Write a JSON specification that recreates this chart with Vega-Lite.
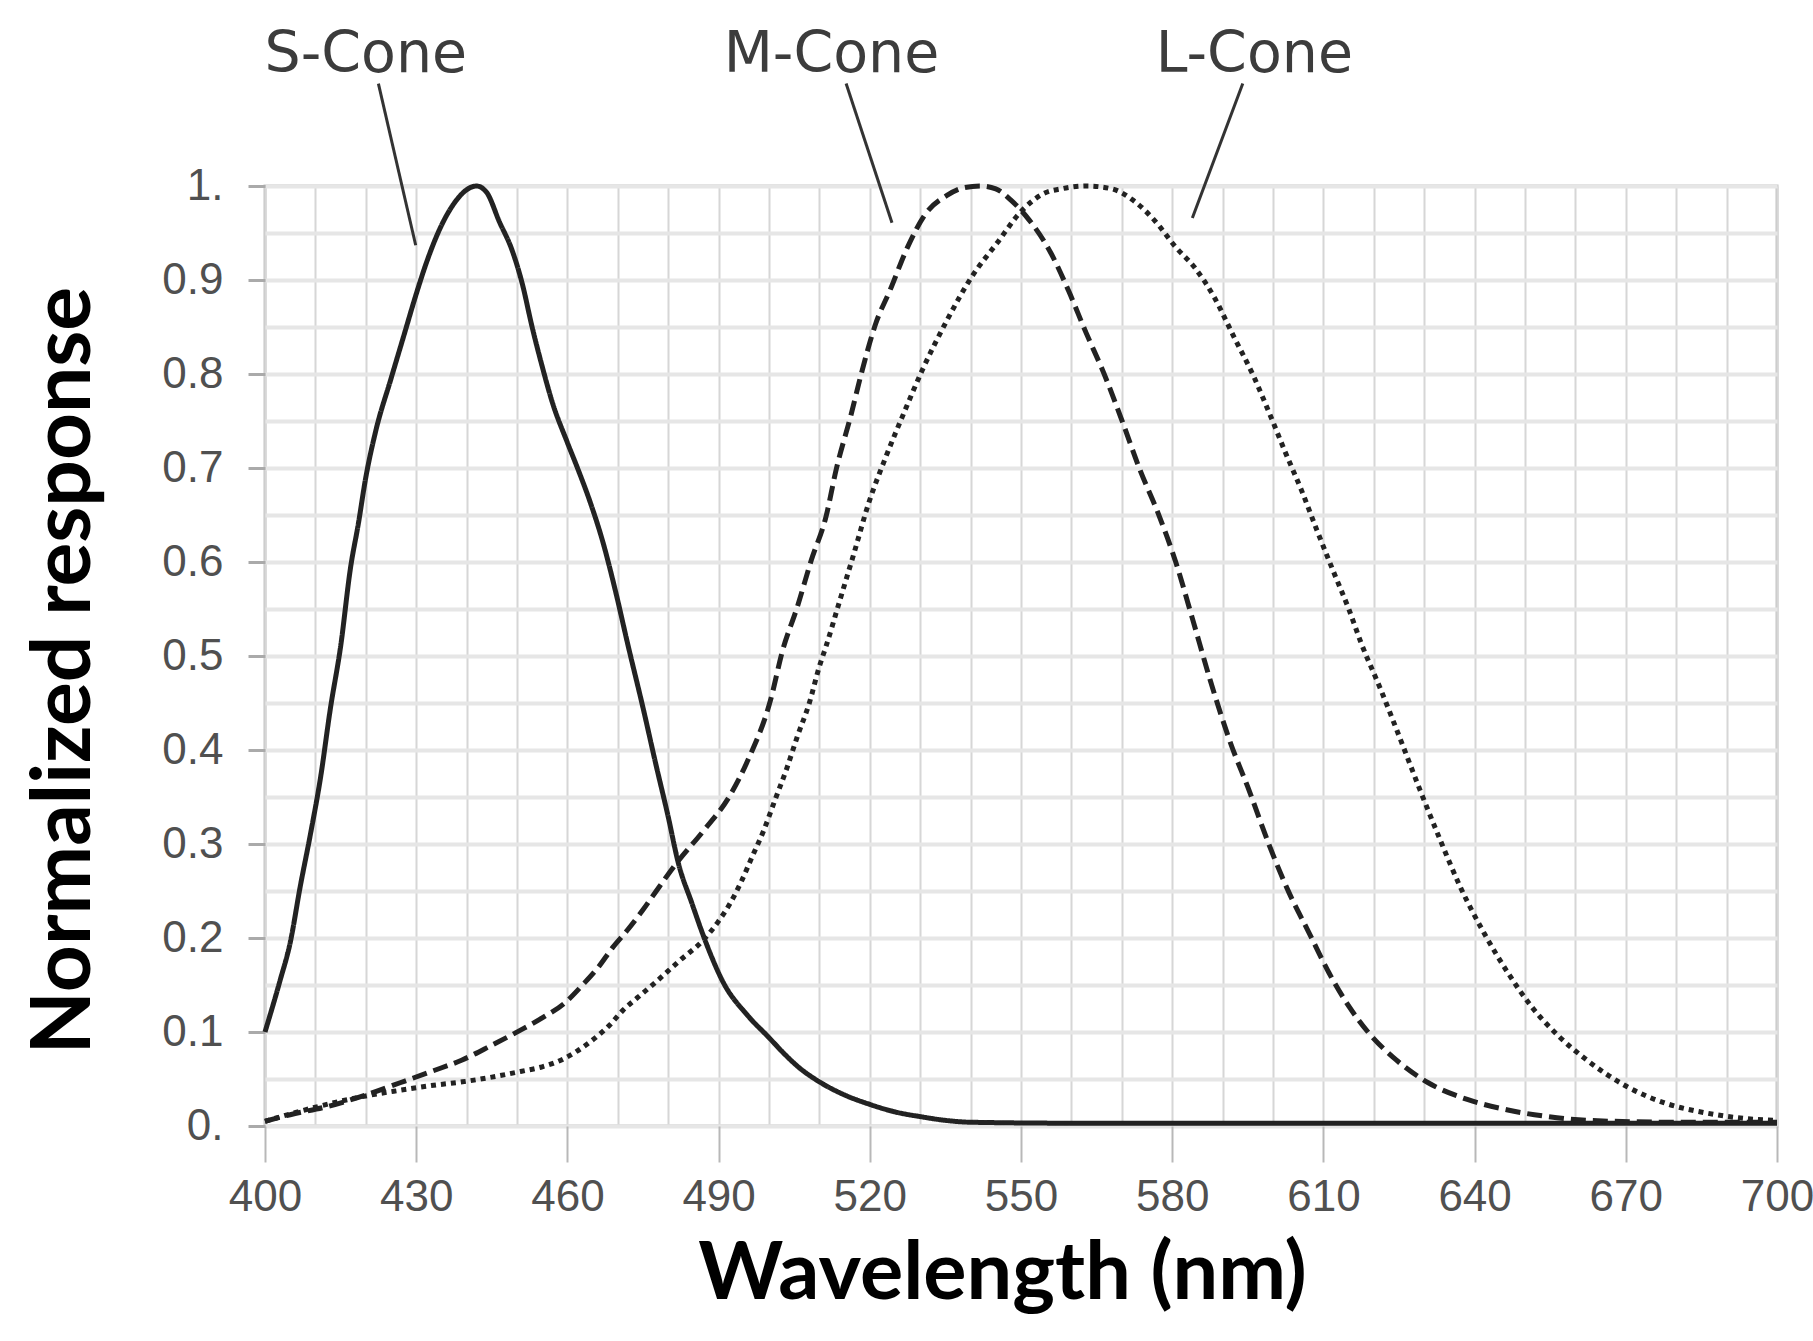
{
  "$schema": "https://vega.github.io/schema/vega-lite/v6.json",
  "width": 1512,
  "height": 940,
  "autosize": {"type": "none"},
  "padding": {"left": 265, "top": 186, "right": 36, "bottom": 215},
  "background": "white",
  "config": {"view": {"stroke": "#c4c4c4", "strokeWidth": 3}},
  "datasets": {
    "curves": [
      {"cone":"S","nm":400,"r":0.10},{"cone":"S","nm":403,"r":0.155},{"cone":"S","nm":405,"r":0.195},{"cone":"S","nm":407,"r":0.255},{"cone":"S","nm":409,"r":0.31},{"cone":"S","nm":411,"r":0.37},{"cone":"S","nm":413,"r":0.445},{"cone":"S","nm":415,"r":0.51},{"cone":"S","nm":417,"r":0.595},{"cone":"S","nm":418.5,"r":0.64},{"cone":"S","nm":420,"r":0.69},{"cone":"S","nm":422,"r":0.74},{"cone":"S","nm":425,"r":0.795},{"cone":"S","nm":427.5,"r":0.84},{"cone":"S","nm":430,"r":0.885},{"cone":"S","nm":432,"r":0.918},{"cone":"S","nm":435,"r":0.958},{"cone":"S","nm":438,"r":0.985},{"cone":"S","nm":440,"r":0.996},{"cone":"S","nm":442,"r":1.0},{"cone":"S","nm":444,"r":0.993},{"cone":"S","nm":446.5,"r":0.962},{"cone":"S","nm":449,"r":0.932},{"cone":"S","nm":451,"r":0.897},{"cone":"S","nm":453,"r":0.85},{"cone":"S","nm":455,"r":0.808},{"cone":"S","nm":457,"r":0.77},{"cone":"S","nm":460,"r":0.727},{"cone":"S","nm":462,"r":0.70},{"cone":"S","nm":464.5,"r":0.664},{"cone":"S","nm":467,"r":0.622},{"cone":"S","nm":469.5,"r":0.57},{"cone":"S","nm":472,"r":0.512},{"cone":"S","nm":475,"r":0.445},{"cone":"S","nm":477.5,"r":0.386},{"cone":"S","nm":480,"r":0.329},{"cone":"S","nm":482,"r":0.28},{"cone":"S","nm":484.7,"r":0.237},{"cone":"S","nm":487.5,"r":0.195},{"cone":"S","nm":491,"r":0.152},{"cone":"S","nm":495.7,"r":0.118},{"cone":"S","nm":500,"r":0.094},{"cone":"S","nm":503,"r":0.077},{"cone":"S","nm":506,"r":0.062},{"cone":"S","nm":510,"r":0.047},{"cone":"S","nm":515,"r":0.033},{"cone":"S","nm":520,"r":0.023},{"cone":"S","nm":525,"r":0.015},{"cone":"S","nm":530,"r":0.01},{"cone":"S","nm":535,"r":0.006},{"cone":"S","nm":540,"r":0.004},{"cone":"S","nm":560,"r":0.003},{"cone":"S","nm":700,"r":0.003},
      {"cone":"M","nm":400,"r":0.005},{"cone":"M","nm":405,"r":0.012},{"cone":"M","nm":412.6,"r":0.021},{"cone":"M","nm":420,"r":0.033},{"cone":"M","nm":426.8,"r":0.046},{"cone":"M","nm":433,"r":0.058},{"cone":"M","nm":439,"r":0.07},{"cone":"M","nm":445,"r":0.086},{"cone":"M","nm":450.7,"r":0.102},{"cone":"M","nm":455,"r":0.115},{"cone":"M","nm":459.5,"r":0.131},{"cone":"M","nm":463,"r":0.15},{"cone":"M","nm":466,"r":0.168},{"cone":"M","nm":469,"r":0.19},{"cone":"M","nm":472,"r":0.209},{"cone":"M","nm":475,"r":0.23},{"cone":"M","nm":477.5,"r":0.249},{"cone":"M","nm":481.7,"r":0.28},{"cone":"M","nm":487,"r":0.314},{"cone":"M","nm":492.3,"r":0.352},{"cone":"M","nm":495.8,"r":0.389},{"cone":"M","nm":500.3,"r":0.453},{"cone":"M","nm":502.7,"r":0.506},{"cone":"M","nm":505.6,"r":0.552},{"cone":"M","nm":508.4,"r":0.602},{"cone":"M","nm":511.3,"r":0.648},{"cone":"M","nm":513.4,"r":0.70},{"cone":"M","nm":516.2,"r":0.755},{"cone":"M","nm":518.3,"r":0.80},{"cone":"M","nm":521.2,"r":0.854},{"cone":"M","nm":524,"r":0.889},{"cone":"M","nm":527.5,"r":0.935},{"cone":"M","nm":531,"r":0.97},{"cone":"M","nm":535.3,"r":0.99},{"cone":"M","nm":538.5,"r":0.998},{"cone":"M","nm":542,"r":1.0},{"cone":"M","nm":545,"r":0.997},{"cone":"M","nm":548,"r":0.985},{"cone":"M","nm":551.6,"r":0.964},{"cone":"M","nm":555.9,"r":0.929},{"cone":"M","nm":559.4,"r":0.889},{"cone":"M","nm":562.9,"r":0.844},{"cone":"M","nm":566.5,"r":0.80},{"cone":"M","nm":570,"r":0.751},{"cone":"M","nm":573.6,"r":0.698},{"cone":"M","nm":577.2,"r":0.652},{"cone":"M","nm":580.7,"r":0.60},{"cone":"M","nm":584,"r":0.54},{"cone":"M","nm":587.5,"r":0.475},{"cone":"M","nm":591.4,"r":0.41},{"cone":"M","nm":595.4,"r":0.355},{"cone":"M","nm":599.3,"r":0.298},{"cone":"M","nm":603.2,"r":0.248},{"cone":"M","nm":607.2,"r":0.205},{"cone":"M","nm":611.1,"r":0.163},{"cone":"M","nm":615.1,"r":0.127},{"cone":"M","nm":619,"r":0.099},{"cone":"M","nm":624.5,"r":0.07},{"cone":"M","nm":630.8,"r":0.046},{"cone":"M","nm":638.7,"r":0.028},{"cone":"M","nm":646.6,"r":0.017},{"cone":"M","nm":654.5,"r":0.01},{"cone":"M","nm":662.3,"r":0.006},{"cone":"M","nm":680,"r":0.004},{"cone":"M","nm":700,"r":0.004},
      {"cone":"L","nm":400,"r":0.005},{"cone":"L","nm":410,"r":0.02},{"cone":"L","nm":420,"r":0.032},{"cone":"L","nm":426.8,"r":0.038},{"cone":"L","nm":433,"r":0.043},{"cone":"L","nm":439.2,"r":0.047},{"cone":"L","nm":445,"r":0.052},{"cone":"L","nm":450.7,"r":0.058},{"cone":"L","nm":455,"r":0.063},{"cone":"L","nm":458.7,"r":0.07},{"cone":"L","nm":462,"r":0.08},{"cone":"L","nm":465.8,"r":0.095},{"cone":"L","nm":468.5,"r":0.108},{"cone":"L","nm":471,"r":0.123},{"cone":"L","nm":474,"r":0.137},{"cone":"L","nm":477.3,"r":0.152},{"cone":"L","nm":480,"r":0.165},{"cone":"L","nm":482.5,"r":0.177},{"cone":"L","nm":487,"r":0.198},{"cone":"L","nm":490,"r":0.218},{"cone":"L","nm":492.3,"r":0.237},{"cone":"L","nm":494.5,"r":0.26},{"cone":"L","nm":496.7,"r":0.287},{"cone":"L","nm":499,"r":0.315},{"cone":"L","nm":501.2,"r":0.347},{"cone":"L","nm":503.5,"r":0.38},{"cone":"L","nm":505.6,"r":0.414},{"cone":"L","nm":508,"r":0.45},{"cone":"L","nm":510,"r":0.489},{"cone":"L","nm":511.3,"r":0.51},{"cone":"L","nm":514.1,"r":0.56},{"cone":"L","nm":516.9,"r":0.61},{"cone":"L","nm":519.8,"r":0.663},{"cone":"L","nm":523.2,"r":0.712},{"cone":"L","nm":526.8,"r":0.759},{"cone":"L","nm":530.4,"r":0.804},{"cone":"L","nm":535.3,"r":0.857},{"cone":"L","nm":540.3,"r":0.904},{"cone":"L","nm":545.2,"r":0.939},{"cone":"L","nm":550.2,"r":0.974},{"cone":"L","nm":554.5,"r":0.992},{"cone":"L","nm":558,"r":0.997},{"cone":"L","nm":563,"r":1.0},{"cone":"L","nm":568,"r":0.997},{"cone":"L","nm":572.2,"r":0.985},{"cone":"L","nm":576.4,"r":0.964},{"cone":"L","nm":580.7,"r":0.935},{"cone":"L","nm":584.5,"r":0.913},{"cone":"L","nm":588.3,"r":0.882},{"cone":"L","nm":592.2,"r":0.84},{"cone":"L","nm":596.2,"r":0.797},{"cone":"L","nm":599.3,"r":0.758},{"cone":"L","nm":602.5,"r":0.716},{"cone":"L","nm":605.6,"r":0.677},{"cone":"L","nm":608.7,"r":0.634},{"cone":"L","nm":611.9,"r":0.591},{"cone":"L","nm":615.1,"r":0.549},{"cone":"L","nm":617.4,"r":0.515},{"cone":"L","nm":621.4,"r":0.464},{"cone":"L","nm":625.3,"r":0.411},{"cone":"L","nm":629.2,"r":0.357},{"cone":"L","nm":633.2,"r":0.304},{"cone":"L","nm":637.1,"r":0.255},{"cone":"L","nm":641.9,"r":0.205},{"cone":"L","nm":646.6,"r":0.163},{"cone":"L","nm":651.3,"r":0.127},{"cone":"L","nm":656.8,"r":0.095},{"cone":"L","nm":662.3,"r":0.07},{"cone":"L","nm":670.2,"r":0.042},{"cone":"L","nm":678,"r":0.024},{"cone":"L","nm":685.8,"r":0.014},{"cone":"L","nm":693.7,"r":0.008},{"cone":"L","nm":700,"r":0.006}
    ],
    "leaders": [
      {"cone":"S","nm":422.5,"r":1.109,"nm2":429.9,"r2":0.937},
      {"cone":"M","nm":515.3,"r":1.109,"nm2":524.4,"r2":0.961},
      {"cone":"L","nm":594.0,"r":1.109,"nm2":584.0,"r2":0.966}
    ],
    "labels": [
      {"label":"S-Cone","nm":420.0,"r":1.1216},
      {"label":"M-Cone","nm":512.4,"r":1.1216},
      {"label":"L-Cone","nm":596.3,"r":1.1216}
    ]
  },
  "layer": [
    {
      "data": {"name": "curves"},
      "mark": {"type": "line", "strokeWidth": 5, "color": "#222222", "strokeCap": "butt", "interpolate": "monotone"},
      "encoding": {
        "x": {
          "field": "nm", "type": "quantitative",
          "scale": {"domain": [400, 700], "nice": false, "zero": false},
          "axis": {
            "title": "Wavelength (nm)",
            "values": [400,410,420,430,440,450,460,470,480,490,500,510,520,530,540,550,560,570,580,590,600,610,620,630,640,650,660,670,680,690,700],
            "format": "d",
            "labelExpr": "(datum.value - 400) % 30 === 0 ? datum.label : ''",
            "labelFont": "Liberation Sans", "labelFontSize": 44, "labelColor": "#505050",
            "labelPadding": 13, "labelFlush": false, "labelOverlap": false,
            "domain": false,
            "tickSize": 36, "tickWidth": 2, "tickColor": "#b8b8b8",
            "tickOpacity": {"condition": {"test": "(datum.value - 400) % 30 === 0", "value": 1}, "value": 0},
            "grid": true, "gridColor": "#d6d6d6", "gridWidth": 2,
            "titleFont": "Lato", "titleFontWeight": "bold", "titleFontSize": 81, "titleColor": "#000000",
            "titleX": 737, "titleY": 172, "titleBaseline": "alphabetic", "titleAlign": "center"
          }
        },
        "y": {
          "field": "r", "type": "quantitative",
          "scale": {"domain": [0, 1], "nice": false},
          "axis": {
            "title": "Normalized response",
            "values": [0,0.05,0.1,0.15,0.2,0.25,0.3,0.35,0.4,0.45,0.5,0.55,0.6,0.65,0.7,0.75,0.8,0.85,0.9,0.95,1],
            "labelExpr": "datum.value === 0 ? '0.' : (datum.value === 1 ? '1.' : (abs(datum.value*10 - round(datum.value*10)) < 0.001 ? format(datum.value, '.1f') : ''))",
            "labelFont": "Liberation Sans", "labelFontSize": 44, "labelColor": "#505050",
            "labelPadding": 25, "labelFlush": false, "labelOverlap": false,
            "domain": false,
            "tickSize": 17, "tickWidth": 3, "tickColor": "#aaaaaa",
            "tickOpacity": {"condition": {"test": "abs(datum.value*10 - round(datum.value*10)) < 0.001", "value": 1}, "value": 0},
            "grid": true, "gridColor": "#e6e6e6", "gridWidth": 4,
            "titleFont": "Lato", "titleFontWeight": "bold", "titleFontSize": 82, "titleColor": "#000000",
            "titleX": -176, "titleY": 484, "titleBaseline": "alphabetic", "titleAlign": "center", "titleAngle": 270
          }
        },
        "strokeDash": {
          "field": "cone", "type": "nominal",
          "scale": {"domain": ["S", "M", "L"], "range": [[1, 0], [15, 7], [5, 5]]},
          "legend": null
        }
      }
    },
    {
      "data": {"name": "leaders"},
      "mark": {"type": "rule", "color": "#333333", "strokeWidth": 3},
      "encoding": {
        "x": {"field": "nm", "type": "quantitative"},
        "y": {"field": "r", "type": "quantitative"},
        "x2": {"field": "nm2"},
        "y2": {"field": "r2"}
      }
    },
    {
      "data": {"name": "labels"},
      "mark": {"type": "text", "font": "DejaVu Sans", "fontSize": 57, "color": "#3c3c3c", "align": "center", "baseline": "alphabetic"},
      "encoding": {
        "x": {"field": "nm", "type": "quantitative"},
        "y": {"field": "r", "type": "quantitative"},
        "text": {"field": "label"}
      }
    }
  ]
}
